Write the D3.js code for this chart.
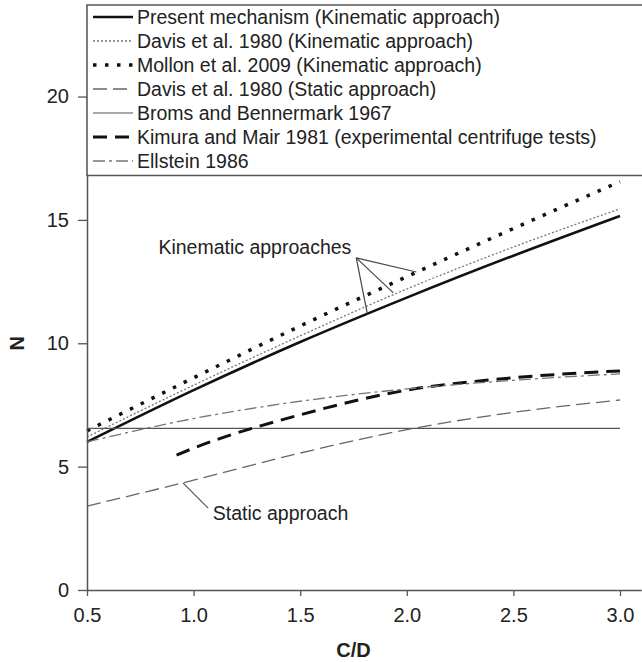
<!DOCTYPE html>
<html><head><meta charset="utf-8">
<script src="https://cdn.jsdelivr.net/npm/d3@7"></script>
<style>
html,body{margin:0;padding:0;background:#fff;}
svg{display:block;font-family:"Liberation Sans",Arial,sans-serif;}
</style></head>
<body>
<svg id="chart" width="642" height="662"></svg>
<script>
// ---- data ----
const cd = [0.5, 1.0, 1.5, 2.0, 2.5, 3.0];
const presentMech   = [6.0, 8.1, 10.05, 11.85, 13.55, 15.16];
const davisKin      = [6.2, 8.3, 10.3, 12.2, 13.9, 15.45];
const mollonKin     = [6.45, 8.6, 10.7, 12.7, 14.65, 16.55];
const davisStatic   = [3.4, 4.45, 5.55, 6.5, 7.2, 7.7];
const broms         = [6.55, 6.55, 6.55, 6.55, 6.55, 6.55];
const kimuraCd      = [0.92, 1.0, 1.5, 2.0, 2.5, 3.0];
const kimura        = [5.47, 5.75, 7.1, 8.1, 8.6, 8.88];
const ellstein      = [6.0, 6.95, 7.65, 8.15, 8.5, 8.76];
const xTicks = [0.5, 1.0, 1.5, 2.0, 2.5, 3.0];
const yTicks = [0, 5, 10, 15, 20];
const legendLabels = [
  "Present mechanism (Kinematic approach)",
  "Davis et al. 1980 (Kinematic approach)",
  "Mollon et al. 2009 (Kinematic approach)",
  "Davis et al. 1980 (Static approach)",
  "Broms and Bennermark 1967",
  "Kimura and Mair 1981 (experimental centrifuge tests)",
  "Ellstein 1986"
];
// annotation anchors (data units)
const kinLabel = {x: 1.74, y: 13.62, text: "Kinematic approaches"};
const kinOrigin = {x: 1.763, y: 13.46};
const kinTargets = [{x: 2.045, y: 12.89}, {x: 1.937, y: 12.04}, {x: 1.815, y: 11.19}];
const statLabel = {x: 1.09, y: 2.84, text: "Static approach"};
const statLeader = [{x: 0.95, y: 4.34}, {x: 1.068, y: 3.32}];

// ---- styles ----
const styles = [
  {stroke:"#111", width:2.6, dash:null},
  {stroke:"#777", width:1.3, dash:"2,2"},
  {stroke:"#111", width:3.5, dash:"3.5,8.5"},
  {stroke:"#666", width:1.3, dash:"14,6"},
  {stroke:"#555", width:1.2, dash:null},
  {stroke:"#111", width:3, dash:"14,8"},
  {stroke:"#777", width:1.3, dash:"12,4,3,4"}
];
const seriesData = [
  [cd, presentMech], [cd, davisKin], [cd, mollonKin], [cd, davisStatic],
  [cd, broms], [kimuraCd, kimura], [cd, ellstein]
];

const svg = d3.select("#chart");
const x = d3.scaleLinear().domain([0.5, 3.1]).range([87, 641.3]);
const y = d3.scaleLinear().domain([0, 23.71]).range([590, 5]);
const axisColor = "#555";

// lines
const line = d3.line().x(d => x(d[0])).y(d => y(d[1])).curve(d3.curveMonotoneX);
seriesData.forEach((s, i) => {
  const pts = s[0].map((v, j) => [v, s[1][j]]);
  const st = styles[i];
  svg.append("path").attr("d", line(pts)).attr("fill", "none")
    .attr("stroke", st.stroke).attr("stroke-width", st.width)
    .attr("stroke-dasharray", st.dash);
});

// axes
const xAxis = svg.append("g").attr("transform", `translate(0,${y(0)})`)
  .call(d3.axisBottom(x).tickValues(xTicks).tickFormat(d3.format(".1f")).tickSize(6).tickSizeOuter(0));
const yAxis = svg.append("g").attr("transform", `translate(${x(0.5)},0)`)
  .call(d3.axisLeft(y).tickValues(yTicks).tickSize(9).tickSizeOuter(0));
[xAxis, yAxis].forEach(g => {
  g.select(".domain").attr("stroke", axisColor).attr("stroke-width", 1.5);
  g.selectAll(".tick line").attr("stroke", axisColor).attr("stroke-width", 1.3);
  g.selectAll(".tick text").attr("fill", "#222").style("font-size", "20px")
    .style("font-family", "'Liberation Sans',Arial,sans-serif");
});
xAxis.selectAll(".tick text").attr("dy", "0").attr("y", 32);
yAxis.selectAll(".tick text").attr("x", -18);

// legend box
const lg = svg.append("g");
lg.append("rect").attr("x", x(0.5)).attr("y", y(23.71)).attr("width", 700).attr("height", y(16.8) - y(23.71))
  .attr("fill", "#fff").attr("stroke", axisColor).attr("stroke-width", 1.5);
legendLabels.forEach((lab, i) => {
  const cy = 17 + i * 24;
  const st = styles[i];
  lg.append("line").attr("x1", 93).attr("x2", 133).attr("y1", cy).attr("y2", cy)
    .attr("stroke", st.stroke).attr("stroke-width", st.width).attr("stroke-dasharray", st.dash);
  lg.append("text").attr("x", 137).attr("y", cy + 7).text(lab)
    .attr("fill", "#222").style("font-size", "19.5px");
});

// axis titles
svg.append("text").attr("x", x(1.75)).attr("y", 657).attr("text-anchor", "middle")
  .style("font-size", "20px").style("font-weight", "bold").attr("fill", "#222").text("C/D");
svg.append("text").attr("transform", `translate(24,${y(10)}) rotate(-90)`).attr("text-anchor", "middle")
  .style("font-size", "20px").style("font-weight", "bold").attr("fill", "#222").text("N");

// annotations
svg.append("text").attr("x", x(kinLabel.x)).attr("y", y(kinLabel.y)).attr("text-anchor", "end")
  .style("font-size", "19.5px").attr("fill", "#222").text(kinLabel.text);
kinTargets.forEach(t => {
  svg.append("line").attr("x1", x(kinOrigin.x)).attr("y1", y(kinOrigin.y))
    .attr("x2", x(t.x)).attr("y2", y(t.y)).attr("stroke", "#444").attr("stroke-width", 1.2);
});
svg.append("line").attr("x1", x(statLeader[0].x)).attr("y1", y(statLeader[0].y))
  .attr("x2", x(statLeader[1].x)).attr("y2", y(statLeader[1].y)).attr("stroke", "#555").attr("stroke-width", 1.2);
svg.append("text").attr("x", x(statLabel.x)).attr("y", y(statLabel.y))
  .style("font-size", "19.5px").attr("fill", "#222").text(statLabel.text);
</script>
</body></html>
